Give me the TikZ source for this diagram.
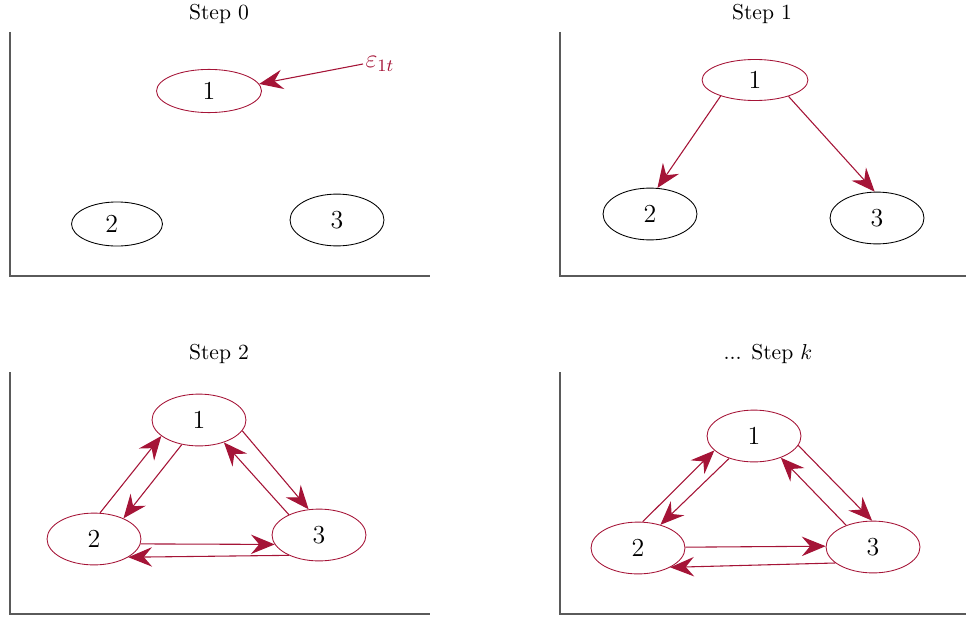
\documentclass[tikz,border=0pt]{standalone}
\usetikzlibrary{shapes.geometric,arrows.meta}
\definecolor{crim}{RGB}{165,20,55}
\definecolor{axc}{RGB}{90,90,90}
\tikzset{
  ell/.style={ellipse, draw, inner sep=0pt, minimum width=43.5pt, minimum height=24pt, font=\large},
  rell/.style={ell, draw=crim},
  arr/.style={crim, line width=0.5pt, -{Stealth[length=11pt,width=9pt,inset=3.8pt]}},
  axis/.style={axc, line width=0.8pt},
  ttl/.style={font=\normalsize}
}
\begin{document}
\begin{tikzpicture}[x=0.463pt,y=-0.463pt]
\useasboundingbox (0,0) rectangle (966,616);
% axes
\draw[axis] (10,32) -- (10,276) -- (430,276);
\draw[axis] (560,32) -- (560,276) -- (966,276);
\draw[axis] (10,372) -- (10,614) -- (430,614);
\draw[axis] (560,372) -- (560,614) -- (966,614);
% titles
\node[ttl] (t0) at (219,14) {Step 0};
\node[ttl] (t1) at (762,14) {Step 1};
\node[ttl] (t2) at (219,354) {Step 2};
\node[ttl] (t3) at (768,354) {... Step $k$};
% Step 0
\node[rell, minimum width=48.6pt, minimum height=20pt] (a1) at (209,91) {1};
\node[ell, minimum width=42.1pt, minimum height=20.4pt] (a2) at (117,224) {\hspace*{-5pt}2};
\node[ell] (a3) at (337,220) {3};
\node[crim, font=\large, anchor=west, inner sep=1pt] (eps) at (363,64) {$\varepsilon_{1t}$};
\draw[arr] (eps.west) -- (a1.8);
% Step 1
\node[rell, minimum width=49pt, minimum height=19pt] (b1) at (755,80) {1};
\node[ell] (b2) at (650,214) {2};
\node[ell] (b3) at (877,218) {3};
\draw[arr] (b1.205) -- (b2.74);
\draw[arr] (b1.334) -- (b3.95);
% Step 2
\node[rell] (c1) at (199,420) {1};
\node[rell] (c2) at (94,539) {2};
\node[rell] (c3) at (319,535) {3};
\draw[arr] (c2.77) -- (c1.203);
\draw[arr] (c1.235) -- (c2.35);
\draw[arr] (c1.346) -- (c3.112);
\draw[arr] (c3.146) -- (c1.318);
\draw[arr] (c2.354) -- (c3.192);
\draw[arr] (c3.214) -- (c2.332);
% Step k
\node[rell] (d1) at (754,436) {1};
\node[rell] (d2) at (638,548) {2};
\node[rell] (d3) at (873,547) {3};
\draw[arr] (d2.80) -- (d1.200);
\draw[arr] (d1.222) -- (d2.46);
\draw[arr] (d1.348) -- (d3.92);
\draw[arr] (d3.141) -- (d1.321);
\draw[arr] (d2.1) -- (d3.179);
\draw[arr] (d3.203) -- (d2.329);
\end{tikzpicture}
\end{document}
